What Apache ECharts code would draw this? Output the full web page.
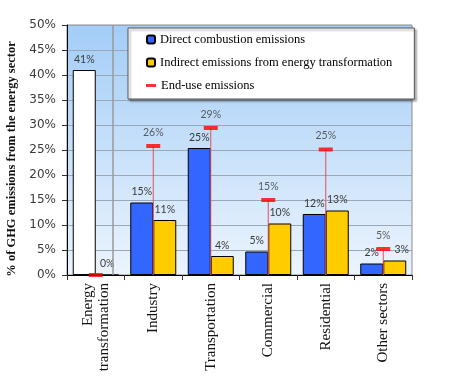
<!DOCTYPE html>
<html><head><meta charset="utf-8">
<script src="https://cdn.jsdelivr.net/npm/echarts@6/dist/echarts.min.js"></script>
<style>html,body{margin:0;padding:0;background:#fff}#c{width:475px;height:392px}</style>
</head><body><div id="c"></div>
<script>
const categories = ['Energy\ntransformation', 'Industry', 'Transportation', 'Commercial', 'Residential', 'Other sectors'];
const directCombustion = [41, 14.5, 25.4, 4.7, 12.2, 2.3];
const indirectEmissions = [0, 11, 3.8, 10.3, 12.9, 2.9];
const endUseEmissions = [0, 25.8, 29.4, 15, 25.1, 5.2];
const yTicks = [0, 50, 5];
const separatorPos = 0.8;

const pct = p => Math.round(Array.isArray(p.value) ? p.value[1] : p.value) + '%';
const lblStyle = { color: '#3a3a3a', fontFamily: 'Lato', fontSize: 10.5 };

const chart = echarts.init(document.getElementById('c'), null, { renderer: 'canvas' });
chart.setOption({
  animation: false,
  grid: {
    left: 67, right: 63, top: 25, bottom: 117, show: true,
    outerBoundsMode: 'none', containLabel: false,
    borderColor: '#8c8c8c', borderWidth: 1,
    backgroundColor: new echarts.graphic.LinearGradient(0, 0, 0, 1, [
      { offset: 0, color: '#a3cdf7' }, { offset: 1, color: '#ecf4fd' }
    ])
  },
  legend: [{
    orient: 'vertical', left: 128, top: 28,
    data: ['Direct combustion emissions', 'Indirect emissions from energy transformation'],
    itemWidth: 8, itemHeight: 8, itemGap: 10,
    padding: [5, 22, 30, 18],
    backgroundColor: '#fff', borderColor: '#555', borderWidth: 1,
    shadowColor: 'rgba(0,0,0,0.35)', shadowBlur: 2, shadowOffsetX: 2, shadowOffsetY: 2,
    textStyle: { fontFamily: 'Liberation Serif', fontSize: 12.5, color: '#000' },
    selectedMode: false
  }, {
    orient: 'vertical', left: 146, top: 79,
    data: [{ name: 'End-use emissions', icon: 'rect' }],
    itemWidth: 10, itemHeight: 3, padding: 0,
    textStyle: { fontFamily: 'Liberation Serif', fontSize: 12.5, color: '#000' },
    selectedMode: false
  }],
  xAxis: [{
    type: 'category', data: categories,
    axisLine: { lineStyle: { color: '#000', width: 1 } },
    axisTick: { show: true, length: 5, lineStyle: { color: '#333' } },
    axisLabel: { rotate: 90, margin: 8, fontFamily: 'Liberation Serif', fontSize: 15, color: '#111', lineHeight: 16 },
    splitLine: { show: false }
  }, {
    type: 'value', min: 0, max: categories.length, show: false,
    splitLine: { show: false }
  }],
  yAxis: {
    type: 'value', min: yTicks[0], max: yTicks[1], interval: yTicks[2],
    name: '% of GHG emissions from the energy sector', nameLocation: 'middle', nameGap: 49,
    nameTextStyle: { fontFamily: 'Liberation Serif', fontWeight: 'bold', fontSize: 12.5, color: '#111', padding: [0, 18, 0, 0] },
    axisLine: { show: true, lineStyle: { color: '#000' } },
    axisTick: { show: true, length: 5, lineStyle: { color: '#333' } },
    axisLabel: { formatter: '{value}%', margin: 11, fontFamily: 'DejaVu Sans', fontSize: 12, color: '#3a3a3a' },
    splitLine: { lineStyle: { color: '#98a8b8', width: 1 } }
  },
  series: [
    {
      name: 'Direct combustion emissions', type: 'bar', barGap: '0%', barCategoryGap: '20%', z: 2,
      data: directCombustion.map((v, i) => i === 0 ? { value: v, itemStyle: { color: '#ffffff' } } : v),
      itemStyle: { color: '#3366ff', borderColor: '#000', borderWidth: 1 },
      label: Object.assign({ show: true, position: 'top', distance: 5, formatter: pct }, lblStyle)
    },
    {
      name: 'Indirect emissions from energy transformation', type: 'bar', z: 2,
      data: indirectEmissions.map((v, i) => i === indirectEmissions.length - 1 ? { value: v, label: { offset: [7, 0] } } : v),
      itemStyle: { color: '#ffcc00', borderColor: '#000', borderWidth: 1 },
      label: Object.assign({ show: true, position: 'top', distance: 5, formatter: pct }, lblStyle)
    },
    {
      name: 'endUseLine', type: 'custom', z: 3, silent: true,
      data: endUseEmissions.map((v, i) => [i, v]),
      encode: { x: 0, y: 1 },
      renderItem: (params, api) => {
        const top = api.coord([api.value(0), api.value(1)]);
        const bot = api.coord([api.value(0), 0]);
        return { type: 'line', shape: { x1: top[0], y1: top[1], x2: bot[0], y2: bot[1] }, style: { stroke: '#e0505a', lineWidth: 1 } };
      }
    },
    {
      name: 'End-use emissions', type: 'scatter', z: 4,
      data: endUseEmissions.map((v, i) => v === 0 ? { value: [i, v], label: { show: false } } : [i, v]),
      symbol: 'rect', symbolSize: [14, 4],
      itemStyle: { color: '#ff0000' },
      label: Object.assign({ show: true, position: 'top', distance: 6, formatter: pct }, lblStyle)
    },
    {
      name: 'separator', type: 'line', xAxisIndex: 1, data: [], silent: true,
      markLine: {
        silent: true, symbol: 'none', label: { show: false },
        lineStyle: { color: '#9a9a9a', width: 1.5, type: 'solid' },
        data: [{ xAxis: separatorPos }]
      }
    }
  ]
});
</script></body></html>
